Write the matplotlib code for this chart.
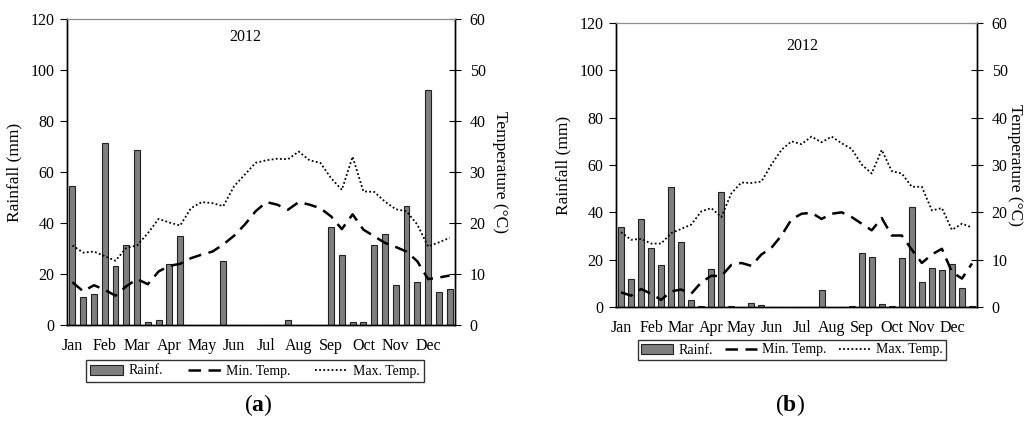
import matplotlib
matplotlib.use("Agg")
import matplotlib.pyplot as plt
import numpy as np

plt.rcParams['font.family'] = ['Liberation Serif', 'DejaVu Serif']
plt.rcParams['mathtext.fontset'] = 'custom'
plt.rcParams['mathtext.rm'] = 'Liberation Serif'
plt.rcParams['mathtext.bf'] = 'Liberation Serif:bold'

# ============================================
# DATA (10-day periods, 3 per month)
# ============================================
months = ["Jan", "Feb", "Mar", "Apr", "May", "Jun",
          "Jul", "Aug", "Sep", "Oct", "Nov", "Dec"]

# panel (a)
rain_a = [54.5, 11, 12, 71.5, 23, 31.5, 68.5, 1, 2, 24, 35, 0,
          0, 0, 25, 0, 0, 0, 0, 0, 2, 0, 0, 0,
          38.5, 27.5, 1, 1, 31.5, 35.5, 15.5, 46.5, 17, 92, 13, 14]
tmin_a = [8.4, 6.6, 7.8, 6.9, 5.75, 7.6, 9.0, 8.0, 10.5, 11.6, 12.0, 13.1,
          13.8, 14.4, 15.8, 17.5, 19.7, 22.3, 24.1, 23.6, 22.6, 24.1, 23.6, 22.9,
          21.3, 18.8, 21.7, 18.7, 17.4, 16.1, 15.3, 14.4, 12.5, 9.0, 9.3, 9.7]
tmax_a = [15.6, 14.2, 14.4, 13.5, 12.6, 15.1, 15.6, 18.0, 20.8, 20.1, 19.5, 22.9,
          24.1, 23.9, 23.3, 27.2, 29.5, 31.8, 32.3, 32.6, 32.5, 34.0, 32.3, 31.8,
          28.8, 26.5, 33.0, 26.2, 26.1, 24.2, 22.7, 22.3, 19.7, 15.4, 16.2, 17.1]

# panel (b)
rain_b = [33.8, 12.0, 37.0, 25.1, 17.7, 50.7, 27.5, 2.8, 0.3, 15.9, 48.6, 0.3,
          0, 1.7, 0.9, 0, 0, 0, 0, 0, 7.3, 0, 0, 0.3,
          22.8, 21.1, 1.3, 0.3, 20.8, 42.3, 10.4, 16.6, 15.8, 18.2, 8.2, 0.3]
tmin_b = [3.1, 2.4, 3.8, 2.8, 1.5, 3.3, 3.7, 2.8, 5.2, 6.6, 6.5, 8.9,
          9.3, 8.7, 11.1, 12.5, 15.1, 18.5, 19.7, 19.9, 18.6, 19.7, 20.0, 19.0,
          17.6, 16.2, 18.8, 15.1, 15.1, 12.1, 9.3, 11.1, 12.3, 7.4, 6.0, 9.2]
tmax_b = [15.8, 14.2, 14.4, 13.4, 13.4, 15.6, 16.5, 17.4, 20.2, 20.9, 19.0, 24.0,
          26.3, 26.2, 26.5, 30.1, 33.2, 35.0, 34.4, 36.0, 34.8, 36.0, 34.6, 33.4,
          30.1, 28.2, 33.2, 28.7, 28.2, 25.4, 25.4, 20.4, 20.9, 16.3, 17.6, 16.8]

# ============================================
# FIGURE
# ============================================
W, H = 1024, 441
fig = plt.figure(figsize=(W / 100, H / 100), dpi=100)


def px_rect(left, top, right, bottom):
    return [left / W, 1 - bottom / H, (right - left) / W, (bottom - top) / H]


def draw_panel(rect, rain, tmin, tmax, bar_w, title_xy, leg_center, leg_opts, rpad=16):
    ax = fig.add_axes(rect)
    x = np.arange(len(rain))

    ax.bar(x, rain, width=bar_w, color='#7f7f7f', edgecolor='#222222',
           linewidth=0.8, label='Rainf.', zorder=2)
    ax.set_xlim(-0.5, len(rain) - 0.5)
    ax.set_ylim(0, 120)
    ax.set_yticks(range(0, 121, 20))
    ax.set_xticks(range(0, len(rain), 3))
    ax.set_xticklabels(months)
    ax.tick_params(axis='x', length=0, pad=9, labelsize=11.5)
    ax.tick_params(axis='y', direction='out', length=5, width=0.8, labelsize=11.5, pad=4)
    ax.set_ylabel('Rainfall (mm)', fontsize=12.5, labelpad=6)

    ax2 = ax.twinx()
    ax2.plot(x, tmin, color='black', ls=(0, (5, 3)), lw=1.8, label='Min. Temp.', zorder=3)
    ax2.plot(x, tmax, color='black', ls=(0, (1, 1.3)), lw=1.3, label='Max. Temp.', zorder=3)
    ax2.set_ylim(0, 60)
    ax2.set_yticks(range(0, 61, 10))
    ax2.tick_params(axis='y', direction='inout', length=9, width=0.8, labelsize=11.5, pad=6)
    ax2.set_ylabel('Temperature (°C)', fontsize=12.5, rotation=-90, labelpad=rpad)

    for a in (ax, ax2):
        a.spines['top'].set_color('#8c8c8c')
        a.spines['top'].set_linewidth(0.8)
        a.spines['left'].set_linewidth(1.0)
        a.spines['right'].set_linewidth(1.0)
        a.spines['bottom'].set_linewidth(1.0)

    ax.text(title_xy[0], title_xy[1], '2012', transform=ax.transAxes,
            ha='center', va='center', fontsize=11.5)

    h1, l1 = ax.get_legend_handles_labels()
    h2, l2 = ax2.get_legend_handles_labels()
    fig.legend(h1 + h2, l1 + l2, loc='center',
               bbox_to_anchor=(leg_center[0] / W, 1 - leg_center[1] / H),
               ncol=3, fontsize=10, frameon=True, fancybox=False,
               edgecolor='#333333', framealpha=1, handletextpad=0.35,
               **leg_opts)
    return ax


draw_panel(px_rect(67, 19, 455, 325), rain_a, tmin_a, tmax_a, 0.55,
           (0.46, 0.94), (255, 371),
           dict(columnspacing=1.8, handlelength=2.4, borderpad=0.3))
draw_panel(px_rect(616, 23, 977, 307), rain_b, tmin_b, tmax_b, 0.6,
           (0.515, 0.918), (792, 350),
           dict(columnspacing=0.9, handlelength=2.3, borderpad=0.25),
           rpad=11)

fig.text(258 / W, 1 - 405 / H, r'($\mathbf{a}$)', ha='center', va='center', fontsize=17)
fig.text(790 / W, 1 - 405 / H, r'($\mathbf{b}$)', ha='center', va='center', fontsize=17)

plt.savefig('out.png', dpi=100)
